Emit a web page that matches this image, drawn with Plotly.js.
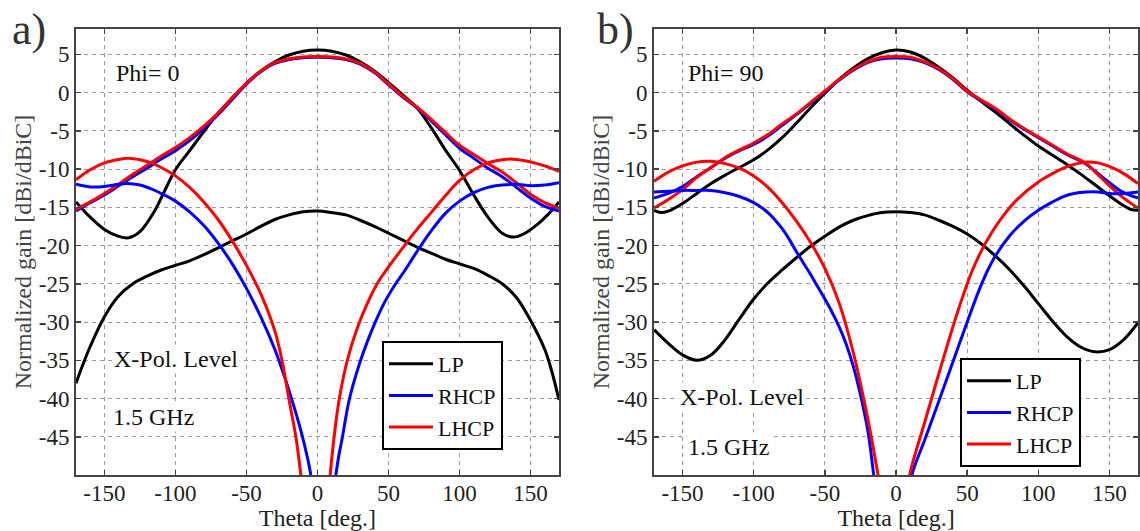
<!DOCTYPE html>
<html>
<head>
<meta charset="utf-8">
<script src="https://cdn.plot.ly/plotly-3.0.1.min.js"></script>
<style>html,body{margin:0;padding:0;background:#fff;}#chart{width:1140px;height:531px;}</style>
</head>
<body>
<div id="chart"></div>
<script>
// ---------- Panel a) Phi = 0 ----------
const thetaA_lpCo = [-170,-160,-150,-140,-133,-125,-115,-108,-100,-90,-80,-70,-60,-50,-40,-30,-20,-10,0,10,20,30,40,50,60,70,80,90,100,110,120,130,138,145,155,162,170];
const a_lpCo      = [-14.3,-16.3,-17.9,-18.8,-19.0,-18.2,-15.6,-13.0,-10.1,-7.6,-5.1,-2.7,-0.7,1.2,2.8,4.0,4.9,5.4,5.55,5.4,4.9,4.0,2.8,1.3,-0.3,-2.0,-4.6,-7.5,-10.2,-13.4,-16.3,-18.4,-18.9,-18.5,-17.2,-16.0,-14.3];

const thetaA_lpX = [-170,-165,-160,-150,-140,-130,-120,-110,-100,-90,-80,-70,-60,-50,-40,-30,-20,-10,0,10,20,30,40,50,60,70,80,90,100,110,120,130,140,150,160,165,170];
const a_lpX      = [-38.0,-35.5,-33.2,-29.3,-26.6,-25.0,-24.0,-23.2,-22.6,-22.0,-21.2,-20.3,-19.4,-18.5,-17.5,-16.6,-16.0,-15.6,-15.5,-15.7,-16.0,-16.7,-17.5,-18.4,-19.3,-20.2,-21.0,-21.8,-22.4,-23.0,-23.9,-25.0,-26.8,-29.8,-33.6,-36.5,-40.2];

const thetaA_rhcpCo = [-170,-160,-150,-140,-130,-120,-110,-100,-90,-80,-70,-60,-50,-40,-30,-20,-10,0,10,20,30,40,50,60,70,80,90,100,110,120,130,140,150,160,170];
const a_rhcpCo      = [-15.5,-14.4,-13.4,-12.2,-11.0,-9.9,-8.7,-7.6,-6.3,-4.7,-2.9,-0.9,1.1,2.7,3.8,4.3,4.55,4.6,4.55,4.3,3.7,2.6,1.0,-0.6,-2.0,-3.7,-5.5,-7.3,-8.6,-9.9,-11.0,-12.4,-13.8,-14.9,-15.5];

const thetaA_lhcpCo = [-170,-160,-150,-140,-130,-120,-110,-100,-90,-80,-70,-60,-50,-40,-30,-20,-10,0,10,20,30,40,50,60,70,80,90,100,110,120,130,140,150,160,170];
const a_lhcpCo      = [-15.3,-14.3,-13.2,-12.0,-10.7,-9.5,-8.3,-7.2,-5.9,-4.4,-2.7,-0.7,1.2,2.8,3.9,4.4,4.65,4.7,4.65,4.4,3.8,2.7,1.1,-0.5,-1.9,-3.5,-5.2,-6.9,-8.1,-9.3,-10.4,-11.8,-13.3,-14.4,-15.1];

const thetaA_rhcpX = [-170,-160,-150,-140,-134,-125,-117,-110,-100,-90,-80,-70,-60,-50,-40,-30,-23.5,-17,-11.7,-7,-4.7,-2,
                      10,12.9,15,17.6,20,22.3,26,30,35,40,47,55,61,70,80,90,100,110,120,130,140,150,160,170];
const a_rhcpX      = [-12.0,-12.35,-12.3,-12.0,-11.9,-12.1,-12.6,-13.2,-14.2,-15.6,-17.4,-19.7,-22.4,-25.6,-29.3,-33.6,-37.0,-40.8,-44.2,-47.8,-50,-53,
                      -54,-50,-47.5,-45,-42.4,-40.2,-37.6,-35.2,-32.6,-30.3,-27.5,-25.0,-23.4,-20.8,-18.1,-15.8,-14.2,-13.1,-12.4,-12.1,-12.0,-12.2,-12.1,-11.8];

const thetaA_lhcpX = [-170,-160,-150,-140,-133,-125,-117,-110,-100,-90,-80,-70,-60,-50,-40,-30,-25,-20,-15,-11.7,-9,
                      7,8.9,11.7,15.2,21,28,35,42,50,60,70,80,90,100,110,120,130,136,145,152.6,160,170];
const a_lhcpX      = [-11.4,-10.1,-9.2,-8.75,-8.6,-8.8,-9.2,-9.8,-10.9,-12.4,-14.3,-16.6,-19.4,-22.6,-26.3,-31.2,-35.0,-40.2,-45.3,-50,-54,
                      -54,-50,-45,-40.2,-35,-30.8,-27.6,-25.0,-22.8,-20.3,-17.9,-15.7,-13.5,-11.5,-10.1,-9.2,-8.8,-8.7,-8.9,-9.2,-9.6,-10.3];

// ---------- Panel b) Phi = 90 ----------
const thetaB_lpCo = [-170,-165,-160,-150,-140,-130,-120,-110,-100,-90,-80,-70,-60,-50,-40,-30,-20,-10,0,10,20,30,40,50,60,70,80,90,100,110,120,130,140,150,160,165,170];
const b_lpCo      = [-15.4,-15.7,-15.5,-14.5,-13.2,-11.9,-10.8,-9.8,-8.8,-7.5,-5.9,-4.0,-2.0,-0.1,1.7,3.2,4.4,5.2,5.55,5.3,4.5,3.3,1.9,0.3,-1.2,-2.6,-4.1,-5.6,-7.0,-8.2,-9.4,-10.7,-12.1,-13.5,-14.8,-15.3,-15.4];

const thetaB_lpX = [-170,-160,-150,-140,-130,-120,-110,-100,-90,-80,-70,-60,-50,-40,-30,-20,-10,0,10,20,30,40,50,60,70,80,90,100,110,120,130,140,150,160,170];
const b_lpX      = [-31.0,-32.8,-34.3,-35.0,-34.3,-32.3,-29.6,-27.0,-24.9,-23.2,-21.6,-20.1,-18.8,-17.6,-16.7,-16.1,-15.7,-15.6,-15.7,-16.0,-16.7,-17.5,-18.5,-19.8,-21.4,-23.2,-25.3,-27.6,-29.9,-31.9,-33.3,-33.9,-33.6,-32.3,-30.1];

const thetaB_rhcpCo = [-170,-160,-150,-140,-130,-120,-110,-100,-90,-80,-70,-60,-50,-40,-30,-20,-10,0,10,20,30,40,50,60,70,80,90,100,110,120,133,140,150,158,170];
const b_rhcpCo      = [-13.8,-13.2,-12.3,-11.0,-9.8,-8.6,-7.6,-6.8,-5.7,-4.3,-2.9,-1.4,0.1,1.6,2.9,3.9,4.4,4.5,4.4,3.9,3.0,1.7,0.1,-1.1,-2.2,-3.6,-4.8,-5.9,-7.0,-8.1,-9.3,-10.3,-11.8,-12.9,-13.8];

const thetaB_lhcpCo = [-170,-160,-150,-140,-130,-120,-110,-100,-90,-80,-70,-60,-50,-40,-30,-20,-10,0,10,20,30,40,50,60,70,80,90,100,110,120,133,140,150,160,170];
const b_lhcpCo      = [-15.1,-14.0,-12.7,-11.1,-9.8,-8.5,-7.5,-6.6,-5.5,-4.1,-2.8,-1.3,0.2,1.7,3.0,4.0,4.6,4.7,4.6,4.0,3.1,1.8,0.2,-1.0,-2.1,-3.5,-4.7,-5.8,-6.9,-8.0,-9.2,-10.4,-12.2,-13.8,-15.1];

const thetaB_rhcpX = [-170,-160,-150,-140,-130,-120,-110,-100,-90,-80,-75,-70,-65,-60,-55,-50,-45,-40,-35,-30,-25,-20,-18,-15.7,-13,
                      8.5,11.2,20,30,40,50,58,64,70,80,90,100,110,117.6,125,134,142,150,160,170];
const b_rhcpX      = [-13.0,-12.9,-12.8,-12.8,-12.8,-13.1,-13.6,-14.4,-15.7,-17.8,-19.2,-20.8,-22.3,-23.8,-25.4,-27.0,-28.7,-30.6,-32.9,-35.8,-39.5,-44.0,-46.5,-50,-54,
                      -54,-50,-45.5,-40.4,-35.2,-30.0,-26.0,-23.4,-21.3,-18.7,-16.8,-15.4,-14.3,-13.6,-13.2,-13.0,-13.0,-13.2,-13.2,-13.0];

const thetaB_lhcpX = [-170,-160,-150,-140,-130,-120,-110,-100,-90,-80,-70,-60,-50,-40,-30,-20,-12.6,-10,
                      7,9.6,20,30,40,47,53.3,60,66,75,85,100,110,117.6,125,134,142,150.4,160,170];
const b_lhcpX      = [-11.6,-10.4,-9.6,-9.1,-9.0,-9.3,-9.9,-10.9,-12.4,-14.4,-16.8,-19.6,-23.0,-27.5,-34.0,-42.5,-50,-53,
                      -54,-50,-43.2,-36.8,-30.6,-26.6,-23.4,-20.7,-18.7,-16.2,-14.0,-11.7,-10.6,-9.9,-9.4,-9.1,-9.2,-9.7,-10.6,-11.9];

// ---------- labels ----------
const xTicks = [-150, -100, -50, 0, 50, 100, 150];
const xTickText = ['-150', '-100', '-50', '0', '50', '100', '150'];
const yTicks = [-45, -40, -35, -30, -25, -20, -15, -10, -5, 0, 5];
const yTickText = ['-45', '-40', '-35', '-30', '-25', '-20', '-15', '-10', '-5', '0', '5'];
const xTitle = 'Theta [deg.]';
const yTitle = 'Normalized gain [dBi/dBiC]';
const panelLabels = ['a)', 'b)'];
const phiLabels = ['Phi= 0', 'Phi= 90'];
const noteLabels = ['X-Pol. Level', '1.5 GHz'];

const colors = {LP: '#000000', RHCP: '#0000ff', LHCP: '#ff0000'};
const FONT = 'Liberation Serif, Times New Roman, serif';

function tr(x, y, name, xa, ya, leg, show) {
  return {x: x, y: y, name: name, type: 'scatter', mode: 'lines',
          line: {color: colors[name], width: 3, shape: 'spline', smoothing: 1},
          xaxis: xa, yaxis: ya, legend: leg, showlegend: show, hoverinfo: 'x+y+name'};
}

const data = [
  tr(thetaA_lpCo, a_lpCo, 'LP', 'x', 'y', 'legend', true),
  tr(thetaA_rhcpCo, a_rhcpCo, 'RHCP', 'x', 'y', 'legend', true),
  tr(thetaA_lhcpCo, a_lhcpCo, 'LHCP', 'x', 'y', 'legend', true),
  tr(thetaA_lpX, a_lpX, 'LP', 'x', 'y', 'legend', false),
  tr(thetaA_rhcpX, a_rhcpX, 'RHCP', 'x', 'y', 'legend', false),
  tr(thetaA_lhcpX, a_lhcpX, 'LHCP', 'x', 'y', 'legend', false),
  tr(thetaB_lpCo, b_lpCo, 'LP', 'x2', 'y2', 'legend2', true),
  tr(thetaB_rhcpCo, b_rhcpCo, 'RHCP', 'x2', 'y2', 'legend2', true),
  tr(thetaB_lhcpCo, b_lhcpCo, 'LHCP', 'x2', 'y2', 'legend2', true),
  tr(thetaB_lpX, b_lpX, 'LP', 'x2', 'y2', 'legend2', false),
  tr(thetaB_rhcpX, b_rhcpX, 'RHCP', 'x2', 'y2', 'legend2', false),
  tr(thetaB_lhcpX, b_lhcpX, 'LHCP', 'x2', 'y2', 'legend2', false)
];

function xax(domain, anchor) {
  return {domain: domain, anchor: anchor, range: [-170, 170], tickvals: xTicks, ticktext: xTickText,
          showline: true, linecolor: '#444', linewidth: 2, mirror: 'ticks',
          ticks: 'inside', ticklen: 5, tickwidth: 1.5, tickcolor: '#444',
          showgrid: true, gridcolor: '#9a9a9a', gridwidth: 1, griddash: '4px,4px',
          zeroline: false, automargin: false, ticklabelstandoff: -4,
          tickfont: {family: FONT, size: 23, color: '#222'},
          title: {text: xTitle, standoff: 5, font: {family: FONT, size: 24, color: '#222'}}};
}
function yax(anchor) {
  return {domain: [0, 1], anchor: anchor, range: [-50, 8.3], tickvals: yTicks, ticktext: yTickText,
          showline: true, linecolor: '#444', linewidth: 2, mirror: 'ticks',
          ticks: 'inside', ticklen: 5, tickwidth: 1.5, tickcolor: '#444',
          showgrid: true, gridcolor: '#9a9a9a', gridwidth: 1, griddash: '4px,4px',
          zeroline: false, automargin: false,
          tickfont: {family: FONT, size: 23, color: '#222'},
          title: {text: yTitle, standoff: 0, font: {family: FONT, size: 24, color: '#444'}}};
}

function note(text, x, y, xref, yref) {
  return {text: text, x: x, y: y, xref: xref, yref: yref, xanchor: 'left', yanchor: 'middle',
          showarrow: false, bgcolor: '#ffffff', borderpad: 1,
          font: {family: FONT, size: 24, color: '#111'}};
}

const legendBase = {xref: 'paper', yref: 'paper', xanchor: 'left', yanchor: 'top',
  bgcolor: '#ffffff', bordercolor: '#000', borderwidth: 2, itemwidth: 44,
  tracegroupgap: 0, font: {family: FONT, size: 22, color: '#111'}};

const layout = {
  width: 1140, height: 531,
  margin: {l: 76, r: 2, t: 29, b: 56, pad: 0},
  paper_bgcolor: '#ffffff', plot_bgcolor: '#ffffff',
  font: {family: FONT, size: 24, color: '#222'},
  xaxis: xax([0, 0.4548], 'y'),
  yaxis: yax('x'),
  xaxis2: xax([0.5443, 1.0], 'y2'),
  yaxis2: yax('x2'),
  legend: Object.assign({}, legendBase, {x: 0.2881, y: 0.3004}),
  legend2: Object.assign({}, legendBase, {x: 0.8324, y: 0.2623}),
  annotations: [
    {text: panelLabels[0], xref: 'paper', yref: 'paper', x: -0.0621, y: 1.0, xanchor: 'left', yanchor: 'middle',
     showarrow: false, font: {family: FONT, size: 44, color: '#333'}},
    {text: panelLabels[1], xref: 'paper', yref: 'paper', x: 0.4887, y: 1.0, xanchor: 'left', yanchor: 'middle',
     showarrow: false, font: {family: FONT, size: 44, color: '#333'}},
    note(phiLabels[0], -143.5, 2.55, 'x', 'y'),
    note(noteLabels[0], -144.9, -34.8, 'x', 'y'),
    note(noteLabels[1], -145.6, -42.4, 'x', 'y'),
    note(phiLabels[1], -147.9, 2.55, 'x2', 'y2'),
    note(noteLabels[0], -153.5, -39.8, 'x2', 'y2'),
    note(noteLabels[1], -147.9, -46.3, 'x2', 'y2')
  ]
};

Plotly.newPlot('chart', data, layout, {staticPlot: true, displayModeBar: false});
</script>
</body>
</html>
